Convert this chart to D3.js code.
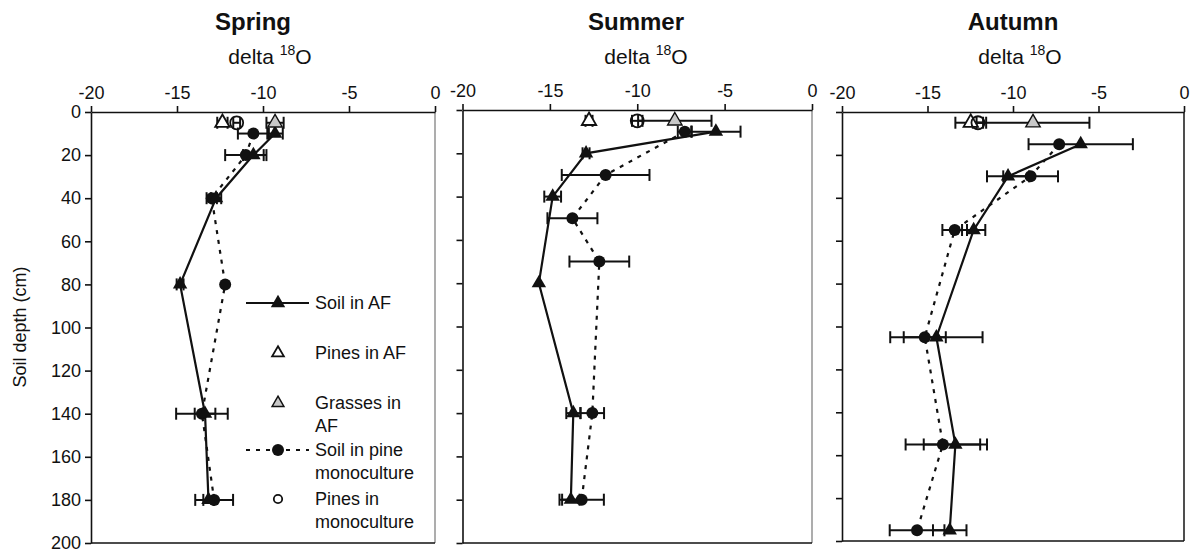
<!DOCTYPE html>
<html>
<head>
<meta charset="utf-8">
<script src="https://cdn.jsdelivr.net/npm/d3@7"></script>
<style>
	body { margin: 0; background: #fff; }
	svg { font-family: "Liberation Sans", Arial, sans-serif; }
</style>
</head>
<body>
<svg id="chart" width="1195" height="554"></svg>
<script>
const seasons = ["Spring", "Summer", "Autumn"];
const xTicks = [-20, -15, -10, -5, 0];
const yTicks = [0, 20, 40, 60, 80, 100, 120, 140, 160, 180, 200];

// soil in agroforestry (filled triangle, solid line)
const soilAFDepth = [[10, 20, 40, 80, 140, 180], [10, 20, 40, 80, 140, 180], [15, 30, 55, 105, 155, 195]];
const soilAFValue = [[-9.3, -10.56, -12.73, -14.82, -13.37, -13.17], [-5.5, -12.93, -14.84, -15.63, -13.66, -13.8], [-6.04, -10.29, -12.3, -14.48, -13.37, -13.7]];
const soilAFErr = [[0.45, 0.6, 0.3, 0.2, 0.6, 0.3], [1.41, 0.2, 0.48, 0, 0.4, 0.5], [3.05, 1.23, 0.68, 2.7, 1.85, 0.98]];

// soil in pine monoculture (filled circle, dotted line)
const soilPineDepth = [[10, 20, 40, 80, 140, 180], [10, 30, 50, 70, 140, 180], [15, 30, 55, 105, 155, 195]];
const soilPineValue = [[-10.56, -11.0, -12.98, -12.2, -13.55, -12.84], [-7.28, -11.81, -13.71, -12.17, -12.57, -13.18], [-7.3, -8.97, -13.41, -15.16, -14.1, -15.61]];
const soilPineErr = [[0.9, 1.2, 0.3, 0, 1.5, 1.1], [0.4, 2.51, 1.43, 1.71, 0.67, 1.27], [0, 1.6, 0.72, 1.23, 2.18, 1.6]];

// plant water, sampled at 5 cm
const plantDepth = 5;
const pinesAFValue = [-12.36, -12.76, -12.47];
const pinesAFErr = [0.3, 0.2, 0.9];
const grassesAFValue = [-9.3, -7.85, -8.83];
const grassesAFErr = [0.5, 2.1, 3.3];
const pinesMonoValue = [-11.53, -10.0, -12.05];
const pinesMonoErr = [0.2, 0.3, 0.3];

const legendLabels = [["Soil in AF"], ["Pines in AF"], ["Grasses in", "AF"], ["Soil in pine", "monoculture"], ["Pines in", "monoculture"]];

const panels = [
	{ left: 91, right: 435, top: 112, bottom: 543, titleX: 253, unitX: 270, border: "#999" },
	{ left: 462.5, right: 812, top: 110, bottom: 543, titleX: 636, unitX: 646, border: "#999" },
	{ left: 842, right: 1184, top: 112, bottom: 541, titleX: 1013, unitX: 1020, border: "#222" },
];

const svg = d3.select("#chart");
const ink = "#111";
const grey = "#c8c8c8";
const triangle = d3.symbol(d3.symbolTriangle, 90);
const smallTriangle = d3.symbol(d3.symbolTriangle, 60);

function pts(depths, values, errs) {
	return depths.map((d, i) => ({ d: d, v: values[i], e: errs[i] }));
}

function drawErrors(g, data, x, y) {
	let eb = g.append("g").attr("stroke", ink).attr("stroke-width", 2);
	data.filter((p) => p.e > 0).forEach((p) => {
		eb.append("line").attr("x1", x(p.v - p.e)).attr("x2", x(p.v + p.e)).attr("y1", y(p.d)).attr("y2", y(p.d));
		[p.v - p.e, p.v + p.e].forEach((c) => {
			eb.append("line").attr("x1", x(c)).attr("x2", x(c)).attr("y1", y(p.d) - 6).attr("y2", y(p.d) + 6);
		});
	});
}

seasons.forEach((season, s) => {
	const p = panels[s];
	const x = d3.scaleLinear().domain([-20, 0]).range([p.left, p.right]);
	const y = d3.scaleLinear().domain([0, 200]).range([p.top, p.bottom]);
	const g = svg.append("g");

	// title and unit
	g.append("text").attr("x", p.titleX).attr("y", 30).attr("text-anchor", "middle")
		.attr("font-size", 24).attr("font-weight", "bold").attr("fill", ink).text(season);
	let unit = g.append("text").attr("x", p.unitX).attr("y", 64).attr("text-anchor", "middle")
		.attr("font-size", 21).attr("fill", ink);
	unit.append("tspan").text("delta ");
	unit.append("tspan").attr("font-size", 14).attr("dy", -9).text("18");
	unit.append("tspan").attr("dy", 9).text("O");

	// frame
	g.append("line").attr("x1", p.right).attr("x2", p.right).attr("y1", p.top).attr("y2", p.bottom)
		.attr("stroke", p.border).attr("stroke-width", 1.6);
	g.append("line").attr("x1", p.left).attr("x2", p.right).attr("y1", p.bottom).attr("y2", p.bottom)
		.attr("stroke", ink).attr("stroke-width", 1.6);

	const xAxis = d3.axisTop(x).tickValues(xTicks).tickSize(6).tickSizeOuter(0).tickPadding(7)
		.tickFormat((d) => String(d));
	g.append("g").attr("transform", `translate(0, ${p.top})`).call(xAxis)
		.call((a) => a.selectAll("text").attr("font-size", 18).attr("font-family", null).attr("fill", ink))
		.call((a) => a.selectAll("line, path").attr("stroke", ink).attr("stroke-width", 1.6));

	const yAxis = d3.axisLeft(y).tickValues(yTicks).tickSize(6).tickSizeOuter(0).tickPadding(4)
		.tickFormat(s === 0 ? (d) => String(d) : () => "");
	g.append("g").attr("transform", `translate(${p.left}, 0)`).call(yAxis)
		.call((a) => a.selectAll("text").attr("font-size", 18).attr("font-family", null).attr("fill", ink))
		.call((a) => a.selectAll("line, path").attr("stroke", ink).attr("stroke-width", 1.6));

	const soilAF = pts(soilAFDepth[s], soilAFValue[s], soilAFErr[s]);
	const soilPine = pts(soilPineDepth[s], soilPineValue[s], soilPineErr[s]);
	const top = [
		{ d: plantDepth, v: pinesAFValue[s], e: pinesAFErr[s] },
		{ d: plantDepth, v: grassesAFValue[s], e: grassesAFErr[s] },
		{ d: plantDepth, v: pinesMonoValue[s], e: pinesMonoErr[s] },
	];

	drawErrors(g, top, x, y);
	drawErrors(g, soilPine, x, y);
	drawErrors(g, soilAF, x, y);

	const line = d3.line().x((d) => x(d.v)).y((d) => y(d.d));
	g.append("path").datum(soilPine).attr("d", line).attr("fill", "none")
		.attr("stroke", ink).attr("stroke-width", 2.2).attr("stroke-dasharray", "4,6");
	g.append("path").datum(soilAF).attr("d", line).attr("fill", "none")
		.attr("stroke", ink).attr("stroke-width", 2.2);

	g.selectAll(".pine-dot").data(soilPine).enter().append("circle")
		.attr("cx", (d) => x(d.v)).attr("cy", (d) => y(d.d)).attr("r", 6).attr("fill", ink);
	g.selectAll(".af-tri").data(soilAF).enter().append("path")
		.attr("d", triangle).attr("transform", (d) => `translate(${x(d.v)}, ${y(d.d)})`).attr("fill", ink);

	// plant water markers
	g.append("path").attr("d", triangle).attr("transform", `translate(${x(top[0].v)}, ${y(top[0].d)})`)
		.attr("fill", "#fff").attr("stroke", ink).attr("stroke-width", 1.8);
	g.append("path").attr("d", triangle).attr("transform", `translate(${x(top[1].v)}, ${y(top[1].d)})`)
		.attr("fill", grey).attr("stroke", ink).attr("stroke-width", 1.4);
	g.append("circle").attr("cx", x(top[2].v)).attr("cy", y(top[2].d)).attr("r", 6.5)
		.attr("fill", "none").attr("stroke", ink).attr("stroke-width", 1.8);
});

// y axis title
svg.append("text").attr("transform", "translate(26, 327) rotate(-90)").attr("text-anchor", "middle")
	.attr("font-size", 18).attr("fill", ink).text("Soil depth (cm)");

// legend inside the spring panel
const legendY = [303, 353, 403, 450, 499];
const legend = svg.append("g");
legendLabels.forEach((lines, i) => {
	let ly = legendY[i];
	if (i === 0 || i === 3) {
		legend.append("line").attr("x1", 246).attr("x2", 309).attr("y1", ly).attr("y2", ly)
			.attr("stroke", ink).attr("stroke-width", 2).attr("stroke-dasharray", i === 3 ? "4,6" : null);
	}
	if (i === 0) legend.append("path").attr("d", triangle).attr("transform", `translate(278, ${ly})`).attr("fill", ink);
	if (i === 1) legend.append("path").attr("d", smallTriangle).attr("transform", `translate(278, ${ly})`)
		.attr("fill", "#fff").attr("stroke", ink).attr("stroke-width", 1.8);
	if (i === 2) legend.append("path").attr("d", smallTriangle).attr("transform", `translate(278, ${ly})`)
		.attr("fill", grey).attr("stroke", ink).attr("stroke-width", 1.5);
	if (i === 3) legend.append("circle").attr("cx", 278).attr("cy", ly).attr("r", 6).attr("fill", ink);
	if (i === 4) legend.append("circle").attr("cx", 278).attr("cy", ly).attr("r", 4.2)
		.attr("fill", "#fff").attr("stroke", ink).attr("stroke-width", 1.8);
	lines.forEach((t, k) => {
		legend.append("text").attr("x", 315).attr("y", ly + k * 23).attr("dy", "0.35em")
			.attr("font-size", 18).attr("fill", ink).text(t);
	});
});
</script>
</body>
</html>
